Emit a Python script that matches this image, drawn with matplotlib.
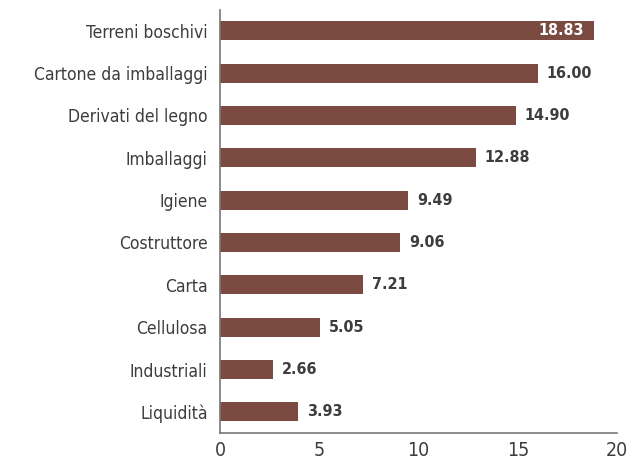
import matplotlib
matplotlib.use('Agg')
import matplotlib.pyplot as plt

categories = ['Terreni boschivi', 'Cartone da imballaggi', 'Derivati del legno',
              'Imballaggi', 'Igiene', 'Costruttore', 'Carta', 'Cellulosa',
              'Industriali', 'Liquidità']
values = [18.83, 16.00, 14.90, 12.88, 9.49, 9.06, 7.21, 5.05, 2.66, 3.93]
xticks = [0, 5, 10, 15, 20]

# DejaVu Sans Condensed per avvicinarsi al font stretto dell'originale
plt.rcParams['font.family'] = ['DejaVu Sans']
plt.rcParams['font.stretch'] = 'condensed'

bar_color = '#7b4a41'
text_color = '#3d3d3d'

fig = plt.figure(figsize=(6.4, 4.72), dpi=100)
ax = fig.add_axes([0.344, 0.0826, 0.62, 0.897])

ypos = list(range(len(categories)))
ax.barh(ypos, values, height=0.45, color=bar_color)
ax.set_ylim(len(categories) - 0.5, -0.5)
ax.set_xlim(0, 20)
ax.set_yticks(ypos)
ax.set_yticklabels(categories, fontsize=12.5, color=text_color)
ax.set_xticks(xticks)
ax.set_xticklabels([str(t) for t in xticks], fontsize=14, color=text_color)
ax.tick_params(length=0, pad=9)
ax.tick_params(axis='x', pad=6)

for s in ['top', 'right']:
    ax.spines[s].set_visible(False)
for s in ['left', 'bottom']:
    ax.spines[s].set_color('#777777')
    ax.spines[s].set_linewidth(1.2)

for y, v in zip(ypos, values):
    if v > 18:
        ax.text(v - 0.5, y, f'{v:.2f}', ha='right', va='center',
                fontsize=11.5, fontweight='bold', color='white')
    else:
        ax.text(v + 0.45, y, f'{v:.2f}', ha='left', va='center',
                fontsize=11.5, fontweight='bold', color=text_color)

fig.savefig('out.png', dpi=100)
